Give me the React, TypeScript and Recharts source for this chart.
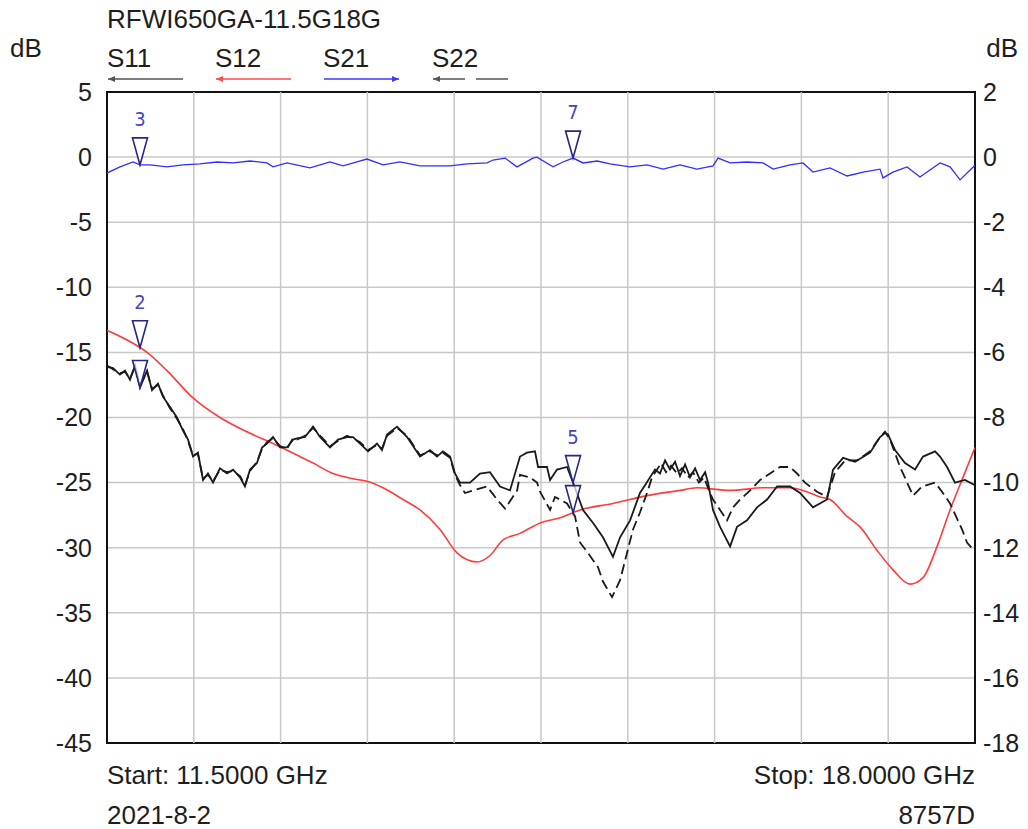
import React from "react";
import {
  LineChart,
  Line,
  XAxis,
  YAxis,
  CartesianGrid,
  ReferenceArea,
  ReferenceDot,
  ReferenceLine,
} from "recharts";

const FONT = '"Liberation Sans", Arial, sans-serif';
const NARROW = '"Liberation Sans Narrow", "DejaVu Sans Condensed", sans-serif';

// frequency grid (GHz) and axis ticks
const freqTicks = [11.5, 12.15, 12.8, 13.45, 14.1, 14.75, 15.4, 16.05, 16.7, 17.35, 18];
const leftTicks = [5, 0, -5, -10, -15, -20, -25, -30, -35, -40, -45];
const rightTicks = [2, 0, -2, -4, -6, -8, -10, -12, -14, -16, -18];

// S11 (solid black), [GHz, dB] on left axis
const s11: [number, number][] = [
  [11.5, -16.1], [11.545, -16.2], [11.597, -16.7], [11.635, -16.4], [11.672, -17.1], [11.71, -16.0],
  [11.747, -17.7], [11.8, -16.4], [11.837, -17.9], [11.882, -17.4], [11.919, -18.4], [11.972, -19.2],
  [12.024, -20.0], [12.069, -21.0], [12.107, -21.7], [12.144, -23.0], [12.181, -22.7], [12.219, -24.8],
  [12.256, -24.3], [12.294, -25.0], [12.346, -23.9], [12.399, -24.3], [12.444, -24.0], [12.496, -24.6],
  [12.533, -25.3], [12.571, -24.0], [12.623, -23.5], [12.661, -22.3], [12.698, -22.0], [12.743, -21.5],
  [12.796, -22.3], [12.848, -22.3], [12.893, -21.7], [12.923, -21.6], [12.983, -21.5], [13.043, -20.7],
  [13.095, -21.5], [13.17, -22.3], [13.23, -21.7], [13.297, -21.5], [13.342, -21.5], [13.395, -22.0],
  [13.455, -22.6], [13.522, -22.0], [13.559, -22.5], [13.597, -21.3], [13.672, -20.7], [13.747, -21.5],
  [13.844, -23.0], [13.919, -22.5], [13.971, -23.0], [14.016, -22.6], [14.069, -23.0], [14.106, -24.3],
  [14.144, -25.0], [14.196, -25.0], [14.218, -25.0], [14.293, -24.3], [14.368, -24.2], [14.443, -25.3],
  [14.518, -25.6], [14.593, -23.0], [14.645, -22.7], [14.705, -22.6], [14.728, -23.8], [14.795, -23.8],
  [14.818, -24.8], [14.87, -24.0], [14.945, -23.8], [14.99, -25.0], [15.065, -27.1], [15.14, -28.1],
  [15.214, -29.2], [15.289, -30.7], [15.342, -29.2], [15.417, -27.9], [15.491, -25.8], [15.529, -25.2],
  [15.566, -24.6], [15.604, -24.0], [15.641, -24.3], [15.679, -23.3], [15.716, -24.0], [15.754, -23.4],
  [15.791, -24.5], [15.829, -23.6], [15.866, -24.6], [15.904, -23.9], [15.941, -24.8], [15.979, -24.2],
  [16.001, -25.0], [16.038, -27.1], [16.091, -28.4], [16.166, -29.9], [16.218, -28.4], [16.293, -27.9],
  [16.368, -26.9], [16.443, -26.3], [16.518, -25.3], [16.615, -25.3], [16.69, -25.8], [16.787, -26.9],
  [16.892, -26.3], [16.937, -24.0], [17.012, -23.1], [17.102, -23.4], [17.214, -22.7], [17.289, -21.5],
  [17.326, -21.2], [17.349, -21.3], [17.401, -22.5], [17.476, -23.5], [17.551, -24.0], [17.611, -23.0],
  [17.701, -22.6], [17.738, -23.0], [17.791, -23.8], [17.85, -25.0], [17.925, -24.8], [18.0, -25.2],
];

// S22 (dashed black), left axis
const s22: [number, number][] = [
  [11.5, -16.0], [11.545, -16.3], [11.597, -16.6], [11.635, -16.5], [11.672, -17.0], [11.71, -16.1],
  [11.747, -17.5], [11.8, -16.5], [11.837, -17.8], [11.882, -17.5], [11.919, -18.3], [11.972, -19.3],
  [12.024, -20.1], [12.069, -20.9], [12.107, -21.8], [12.144, -22.9], [12.181, -22.8], [12.219, -24.7],
  [12.256, -24.4], [12.294, -24.9], [12.346, -24.0], [12.399, -24.2], [12.444, -24.1], [12.496, -24.5],
  [12.533, -25.2], [12.571, -24.1], [12.623, -23.4], [12.661, -22.4], [12.698, -21.9], [12.743, -21.6],
  [12.796, -22.2], [12.848, -22.4], [12.893, -21.6], [12.923, -21.7], [12.983, -21.4], [13.043, -20.8],
  [13.095, -21.4], [13.17, -22.2], [13.23, -21.8], [13.297, -21.4], [13.342, -21.6], [13.395, -21.9],
  [13.455, -22.5], [13.522, -22.1], [13.559, -22.4], [13.597, -21.4], [13.672, -20.8], [13.747, -21.4],
  [13.844, -22.9], [13.919, -22.6], [13.971, -22.9], [14.016, -22.7], [14.069, -23.1], [14.106, -24.4],
  [14.144, -25.2], [14.181, -25.8], [14.241, -25.6], [14.346, -25.3], [14.421, -26.3], [14.481, -27.0],
  [14.571, -25.6], [14.593, -24.4], [14.668, -24.6], [14.72, -25.0], [14.743, -25.7], [14.818, -27.1],
  [14.855, -26.1], [14.945, -26.6], [15.005, -27.6], [15.042, -29.6], [15.102, -30.4], [15.177, -31.5],
  [15.214, -32.6], [15.282, -33.8], [15.342, -32.5], [15.394, -30.4], [15.439, -28.6], [15.491, -27.3],
  [15.544, -25.8], [15.581, -24.6], [15.619, -24.0], [15.649, -23.5], [15.686, -24.2], [15.724, -23.7],
  [15.769, -24.3], [15.806, -23.9], [15.851, -24.6], [15.888, -24.2], [15.933, -25.0], [15.971, -24.6],
  [16.008, -25.6], [16.038, -26.3], [16.091, -27.1], [16.143, -27.9], [16.188, -26.9], [16.241, -26.3],
  [16.316, -25.6], [16.391, -24.8], [16.465, -24.3], [16.54, -23.8], [16.615, -23.8], [16.667, -24.3],
  [16.727, -25.0], [16.817, -25.7], [16.892, -26.1], [16.952, -24.2], [17.027, -23.3], [17.117, -23.3],
  [17.214, -22.6], [17.289, -21.5], [17.326, -21.1], [17.364, -21.7], [17.439, -23.8], [17.536, -26.0],
  [17.603, -25.3], [17.701, -25.0], [17.753, -25.7], [17.813, -26.6], [17.903, -28.6], [17.94, -29.6],
  [18.0, -30.3],
];

// S12 (red), left axis
const s12: [number, number][] = [
  [11.5, -13.3], [11.695, -14.3], [11.8, -15.0], [11.949, -16.4], [12.144, -18.5], [12.346, -20.0],
  [12.548, -21.1], [12.743, -22.0], [12.945, -23.0], [13.043, -23.5], [13.192, -24.3], [13.342, -24.7],
  [13.447, -24.9], [13.567, -25.4], [13.717, -26.3], [13.844, -27.1], [13.994, -28.6], [14.121, -30.4],
  [14.271, -31.1], [14.368, -30.6], [14.466, -29.4], [14.593, -28.9], [14.743, -28.1], [14.892, -27.7],
  [15.042, -27.1], [15.289, -26.6], [15.544, -26.0], [15.791, -25.6], [15.918, -25.4], [16.166, -25.6],
  [16.413, -25.4], [16.615, -25.4], [16.712, -25.6], [16.84, -26.1], [16.914, -26.3], [17.042, -27.6],
  [17.139, -28.4], [17.266, -30.2], [17.386, -31.7], [17.513, -32.8], [17.611, -32.3], [17.716, -29.9],
  [17.813, -27.1], [17.91, -24.6], [18.0, -22.3],
];

// S21 (blue), right axis
const s21: [number, number][] = [
  [11.5, -0.49], [11.597, -0.3], [11.695, -0.15], [11.747, -0.24], [11.822, -0.24], [11.949, -0.3],
  [12.069, -0.24], [12.196, -0.21], [12.324, -0.15], [12.444, -0.18], [12.571, -0.12], [12.698, -0.18],
  [12.743, -0.3], [12.848, -0.18], [13.02, -0.33], [13.17, -0.15], [13.267, -0.27], [13.372, -0.15],
  [13.447, -0.06], [13.567, -0.24], [13.694, -0.15], [13.844, -0.27], [14.069, -0.27], [14.196, -0.21],
  [14.346, -0.18], [14.391, -0.09], [14.481, -0.03], [14.57, -0.3], [14.69, -0.03], [14.72, 0.0],
  [14.84, -0.3], [14.915, -0.15], [14.99, -0.03], [15.065, -0.18], [15.17, -0.12], [15.267, -0.21],
  [15.417, -0.3], [15.544, -0.24], [15.664, -0.37], [15.791, -0.24], [15.918, -0.37], [16.038, -0.27],
  [16.076, -0.03], [16.166, -0.18], [16.293, -0.15], [16.413, -0.18], [16.488, -0.37], [16.615, -0.24],
  [16.712, -0.18], [16.787, -0.46], [16.914, -0.33], [17.042, -0.58], [17.162, -0.46], [17.289, -0.37],
  [17.311, -0.64], [17.386, -0.46], [17.491, -0.3], [17.588, -0.61], [17.738, -0.18], [17.813, -0.3],
  [17.888, -0.7], [18.0, -0.25],
];

// markers: label, trace, frequency
const markers = [
  { label: "3", trace: "S21", f: 11.747 },
  { label: "7", trace: "S21", f: 14.99 },
  { label: "2", trace: "S12", f: 11.747 },
  { label: "", trace: "S11", f: 11.747 },
  { label: "5", trace: "S11", f: 14.99 },
  { label: "", trace: "S12", f: 14.99 },
];

const traces: Record<string, [number, number][]> = { S11: s11, S12: s12, S21: s21, S22: s22 };

const toData = (pts: [number, number][]) => pts.map(([f, v]) => ({ f, v }));

function valueAt(pts: [number, number][], f: number) {
  for (let i = 0; i < pts.length - 1; i++) {
    const [f0, v0] = pts[i];
    const [f1, v1] = pts[i + 1];
    if (f >= f0 && f <= f1) return v0 + ((v1 - v0) * (f - f0)) / (f1 - f0);
  }
  return pts[pts.length - 1][1];
}

const MarkerShape = (props: any) => {
  const { cx, cy, label } = props;
  if (cx == null || cy == null) return null;
  const h = 27;
  const w = 15;
  return (
    <g>
      <polygon
        points={`${cx - w / 2},${cy - h} ${cx + w / 2},${cy - h} ${cx},${cy}`}
        fill="#fff"
        fillOpacity={0.7}
        stroke="#26268a"
        strokeWidth={1.6}
      />
      {label && (
        <text x={cx} y={cy - h - 19} textAnchor="middle" dominantBaseline="central"
          fontFamily={NARROW} fontSize={20} fill="#4646b8">
          {label}
        </text>
      )}
    </g>
  );
};

const legendItems = [
  { name: "S11", x: 107, color: "#555", dir: "left", dashed: false },
  { name: "S12", x: 215, color: "#ff4a4a", dir: "left", dashed: false },
  { name: "S21", x: 323, color: "#3a3aff", dir: "right", dashed: false },
  { name: "S22", x: 432, color: "#555", dir: "left", dashed: true },
];

const TXT = 26;

function Overlay() {
  return (
    <svg width={1028} height={829} style={{ position: "absolute", left: 0, top: 0, pointerEvents: "none" }}>
      <g fontFamily={FONT} fontSize={TXT} fill="#1e1e1e">
        <text x={107} y={19} dominantBaseline="central">RFWI650GA-11.5G18G</text>
        <text x={10} y={48} dominantBaseline="central">dB</text>
        <text x={1018} y={48} textAnchor="end" dominantBaseline="central">dB</text>
        {legendItems.map((it) => (
          <text key={it.name} x={it.x} y={58} dominantBaseline="central">{it.name}</text>
        ))}
        <text x={107} y={775} dominantBaseline="central">Start: 11.5000 GHz</text>
        <text x={975} y={775} textAnchor="end" dominantBaseline="central">Stop: 18.0000 GHz</text>
        <text x={107} y={815} dominantBaseline="central">2021-8-2</text>
        <text x={975} y={815} textAnchor="end" dominantBaseline="central">8757D</text>
      </g>
      {legendItems.map((it) => {
        const x0 = it.x + 1;
        const x1 = it.x + 76;
        const y = 79;
        const head =
          it.dir === "left"
            ? `${x0},${y} ${x0 + 7},${y - 3} ${x0 + 7},${y + 3}`
            : `${x1},${y} ${x1 - 7},${y - 3} ${x1 - 7},${y + 3}`;
        return (
          <g key={it.name}>
            {it.dashed ? (
              <>
                <line x1={x0} y1={y} x2={x0 + 32} y2={y} stroke={it.color} strokeWidth={1.5} />
                <line x1={x0 + 43} y1={y} x2={x1} y2={y} stroke={it.color} strokeWidth={1.5} />
              </>
            ) : (
              <line x1={x0} y1={y} x2={x1} y2={y} stroke={it.color} strokeWidth={1.5} />
            )}
            <polygon points={head} fill={it.color} />
          </g>
        );
      })}
    </svg>
  );
}

export default function App() {
  const tickStyle = { fontFamily: FONT, fontSize: 25, fill: "#1e1e1e" };
  return (
    <div style={{ position: "absolute", left: 0, top: 0, width: 1028, height: 829, background: "#fff" }}>
      <LineChart width={1028} height={829} margin={{ top: 92, right: 0, bottom: 66, left: 0 }}>
        <CartesianGrid stroke="#c8c8c8" strokeWidth={1.5} yAxisId="left" vertical={false} />
        <XAxis
          type="number"
          dataKey="f"
          domain={[11.5, 18]}
          ticks={freqTicks}
          allowDataOverflow
          tick={false}
          tickLine={false}
          axisLine={false}
          height={20}
        />
        <YAxis
          yAxisId="left"
          domain={[-45, 5]}
          ticks={leftTicks}
          allowDataOverflow
          width={107}
          tickLine={false}
          axisLine={false}
          tickSize={0}
          tickMargin={15}
          tick={tickStyle}
          interval={0}
        />
        <YAxis
          yAxisId="right"
          orientation="right"
          domain={[-18, 2]}
          ticks={rightTicks}
          allowDataOverflow
          width={53}
          tickLine={false}
          axisLine={false}
          tickSize={0}
          tickMargin={8}
          tick={tickStyle}
          interval={0}
        />
        {freqTicks.slice(1, -1).map((f) => (
          <ReferenceLine key={f} x={f} yAxisId="left" stroke="#c8c8c8" strokeWidth={1.5} />
        ))}
        <Line data={toData(s12)} dataKey="v" yAxisId="left" type="monotone" stroke="#ff3c3c"
          strokeWidth={1.6} dot={false} isAnimationActive={false} />
        <Line data={toData(s22)} dataKey="v" yAxisId="left" type="linear" stroke="#1a1a1a"
          strokeWidth={1.8} strokeDasharray="10 5" dot={false} isAnimationActive={false} />
        <Line data={toData(s11)} dataKey="v" yAxisId="left" type="linear" stroke="#1a1a1a"
          strokeWidth={1.8} dot={false} isAnimationActive={false} />
        <Line data={toData(s21)} dataKey="v" yAxisId="right" type="linear" stroke="#2f2fff"
          strokeWidth={1.3} dot={false} isAnimationActive={false} />
        <ReferenceArea x1={11.5} x2={18} y1={-45} y2={5} yAxisId="left" fill="none"
          stroke="#111" strokeWidth={2} ifOverflow="visible" />
        {markers.map((m, i) => (
          <ReferenceDot
            key={i}
            x={m.f}
            y={valueAt(traces[m.trace], m.f)}
            yAxisId={m.trace === "S21" ? "right" : "left"}
            ifOverflow="visible"
            shape={(p: any) => <MarkerShape {...p} label={m.label} />}
          />
        ))}
      </LineChart>
      <Overlay />
    </div>
  );
}
